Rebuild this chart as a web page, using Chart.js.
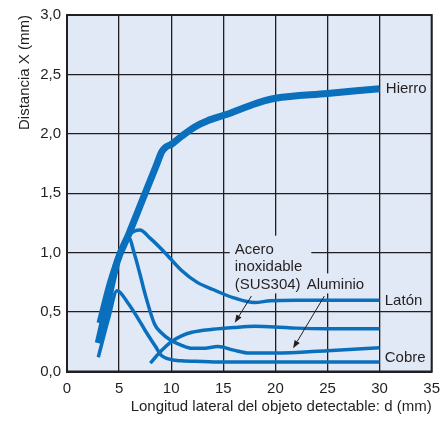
<!DOCTYPE html>
<html>
<head>
<meta charset="utf-8">
<style>
  html, body { margin: 0; padding: 0; background: #fff; }
  #wrap { width: 448px; height: 421px; }
</style>
</head>
<body>
<div id="wrap"><canvas id="c"></canvas></div>
<script src="https://cdn.jsdelivr.net/npm/chart.js"></script>
<script>
  // values (x: d in mm, y: X in mm)
  const hierroX = [3, 4, 4.8, 5.9, 7, 8, 8.6, 9.1, 9.5, 10, 11, 12.3, 13.5, 15.2, 17, 19, 20, 25, 30];
  const hierroY = [0.24, 0.62, 0.92, 1.15, 1.39, 1.61, 1.74, 1.85, 1.89, 1.91, 1.98, 2.06, 2.11, 2.16, 2.22, 2.28, 2.3, 2.34, 2.38];

  const latonX = [3, 4, 5, 6, 7, 8, 9.4, 11, 12.5, 14, 16, 18, 19.5, 22, 25, 30];
  const latonY = [0.41, 0.75, 1.0, 1.15, 1.19, 1.12, 1.0, 0.85, 0.75, 0.69, 0.62, 0.58, 0.595, 0.6, 0.6, 0.6];

  const aluminioX = [3, 4, 5, 5.9, 6.5, 7, 7.5, 8.4, 9, 10, 11, 12, 13, 14.5, 16, 17.5, 20, 25, 30];
  const aluminioY = [0.24, 0.6, 0.95, 1.13, 0.98, 0.82, 0.65, 0.4, 0.33, 0.26, 0.22, 0.195, 0.195, 0.21, 0.18, 0.155, 0.155, 0.175, 0.2];

  const cobreX = [3, 4, 4.8, 5.9, 7, 7.5, 8.5, 9, 10, 11, 13, 15, 20, 25, 30];
  const cobreY = [0.12, 0.45, 0.68, 0.57, 0.42, 0.345, 0.21, 0.14, 0.1, 0.09, 0.085, 0.08, 0.08, 0.08, 0.08];

  const susX = [8, 9, 10, 11, 12, 14, 16, 18, 20, 22, 25, 30];
  const susY = [0.07, 0.17, 0.25, 0.3, 0.33, 0.355, 0.37, 0.38, 0.375, 0.365, 0.36, 0.36];

  const xTicks = [0, 5, 10, 15, 20, 25, 30, 35];
  const yTicks = [0, 0.5, 1.0, 1.5, 2.0, 2.5, 3.0];

  const blue = '#0a70bd';
  const plotBg = '#e1e9f6';
  const ink = '#231f20';
  const font = '"Liberation Sans", Arial, sans-serif';
  const fs = 15;

  const pts = (xs, ys) => xs.map((x, i) => ({ x, y: ys[i] }));

  function line(label, xs, ys, width) {
    return {
      label, data: pts(xs, ys),
      borderColor: blue, borderWidth: width,
      pointRadius: 0, showLine: true, fill: false,
      cubicInterpolationMode: 'monotone',
      borderCapStyle: 'butt', borderJoinStyle: 'round',
    };
  }

  // text placed on the plot, positions in data units
  const endLabels = [
    { text: 'Hierro', x: 30.6, y: 2.375 },
    { text: 'Latón', x: 30.5, y: 0.594 },
    { text: 'Cobre', x: 30.5, y: 0.113 },
  ];
  const noteLines = ['Acero', 'inoxidable', '(SUS304)'];
  const noteAt = { x: 16.1, y: 1.025, step: 0.146 };
  const aluAt = { x: 23.0, y: 0.733 };
  const arrows = [
    { from: [17.7, 0.635], to: [16.1, 0.41] },
    { from: [24.7, 0.635], to: [21.7, 0.195] },
  ];

  const deco = {
    id: 'deco',
    beforeDraw(chart) {
      const { ctx, chartArea: a } = chart;
      ctx.save();
      ctx.fillStyle = plotBg;
      ctx.fillRect(a.left, a.top, a.right - a.left, a.bottom - a.top);
      ctx.restore();
    },
    beforeDatasetsDraw(chart) {
      const { ctx, scales: { x, y } } = chart;
      ctx.save();
      ctx.font = fs + 'px ' + font;
      ctx.fillStyle = plotBg;
      // box behind the note text hides the grid
      const nx = x.getPixelForValue(noteAt.x);
      const top = y.getPixelForValue(noteAt.y) - 14;
      const bottom = y.getPixelForValue(noteAt.y - 2 * noteAt.step) + 9;
      const w = Math.max(...noteLines.map(t => ctx.measureText(t).width));
      ctx.fillRect(nx - 5, top, w + 14, bottom - top);
      const ax = x.getPixelForValue(aluAt.x);
      const ay = y.getPixelForValue(aluAt.y);
      ctx.fillRect(ax - 4, ay - 11, ctx.measureText('Aluminio').width + 8, 20);
      ctx.restore();
    },
    afterDatasetsDraw(chart) {
      const { ctx, chartArea: a, scales: { x, y } } = chart;
      ctx.save();
      ctx.strokeStyle = ink;
      ctx.lineWidth = 2;
      ctx.strokeRect(a.left, a.top, a.right - a.left, a.bottom - a.top);

      ctx.font = fs + 'px ' + font;
      ctx.fillStyle = ink;
      ctx.textBaseline = 'middle';
      ctx.textAlign = 'left';
      for (const l of endLabels)
        ctx.fillText(l.text, x.getPixelForValue(l.x), y.getPixelForValue(l.y));
      noteLines.forEach((t, i) =>
        ctx.fillText(t, x.getPixelForValue(noteAt.x), y.getPixelForValue(noteAt.y - i * noteAt.step)));
      ctx.fillText('Aluminio', x.getPixelForValue(aluAt.x), y.getPixelForValue(aluAt.y));

      ctx.lineWidth = 1;
      for (const ar of arrows) {
        const x0 = x.getPixelForValue(ar.from[0]), y0 = y.getPixelForValue(ar.from[1]);
        const x1 = x.getPixelForValue(ar.to[0]), y1 = y.getPixelForValue(ar.to[1]);
        const ang = Math.atan2(y1 - y0, x1 - x0);
        const hl = 8, hw = 3;
        const bx = x1 - hl * Math.cos(ang), by = y1 - hl * Math.sin(ang);
        ctx.beginPath();
        ctx.moveTo(x0, y0);
        ctx.lineTo(bx, by);
        ctx.stroke();
        ctx.beginPath();
        ctx.moveTo(x1, y1);
        ctx.lineTo(bx + hw * Math.sin(ang), by - hw * Math.cos(ang));
        ctx.lineTo(bx - hw * Math.sin(ang), by + hw * Math.cos(ang));
        ctx.closePath();
        ctx.fill();
      }
      ctx.restore();
    },
  };

  const fmt = v => Number(v).toFixed(1).replace('.', ',');

  new Chart(document.getElementById('c'), {
    type: 'scatter',
    data: {
      datasets: [
        line('Latón', latonX, latonY, 3.5),
        line('Aluminio', aluminioX, aluminioY, 3.5),
        line('Cobre', cobreX, cobreY, 3.5),
        line('Acero inoxidable (SUS304)', susX, susY, 3.5),
        line('Hierro', hierroX, hierroY, 7),
      ],
    },
    options: {
      responsive: true,
      maintainAspectRatio: false,
      animation: false,
      layout: { padding: { top: 10, right: 16, bottom: 0, left: 0 } },
      plugins: { legend: { display: false }, tooltip: { enabled: false } },
      scales: {
        x: {
          type: 'linear', min: 0, max: 35,
          afterBuildTicks: s => { s.ticks = xTicks.map(value => ({ value })); },
          afterFit: s => { s.height = 49.5; },
          grid: { color: ink, lineWidth: 1.3, drawTicks: false },
          border: { color: ink, width: 2 },
          ticks: { color: ink, font: { family: font, size: fs }, padding: 8, maxRotation: 0 },
          title: {
            display: true, align: 'end', color: ink,
            text: 'Longitud lateral del objeto detectable: d (mm)',
            font: { family: font, size: fs }, padding: { top: 0, bottom: 5 },
          },
        },
        y: {
          type: 'linear', min: 0, max: 3,
          afterBuildTicks: s => { s.ticks = yTicks.map(value => ({ value })); },
          afterFit: s => { s.width = 67; },
          grid: { color: ink, lineWidth: 1.3, drawTicks: false },
          border: { color: ink, width: 2 },
          ticks: { color: ink, font: { family: font, size: fs }, padding: 6, callback: fmt },
          title: {
            display: true, align: 'end', color: ink,
            text: 'Distancia X (mm)',
            font: { family: font, size: fs }, padding: { top: 16, bottom: 0 },
          },
        },
      },
    },
    plugins: [deco],
  });
</script>
</body>
</html>
